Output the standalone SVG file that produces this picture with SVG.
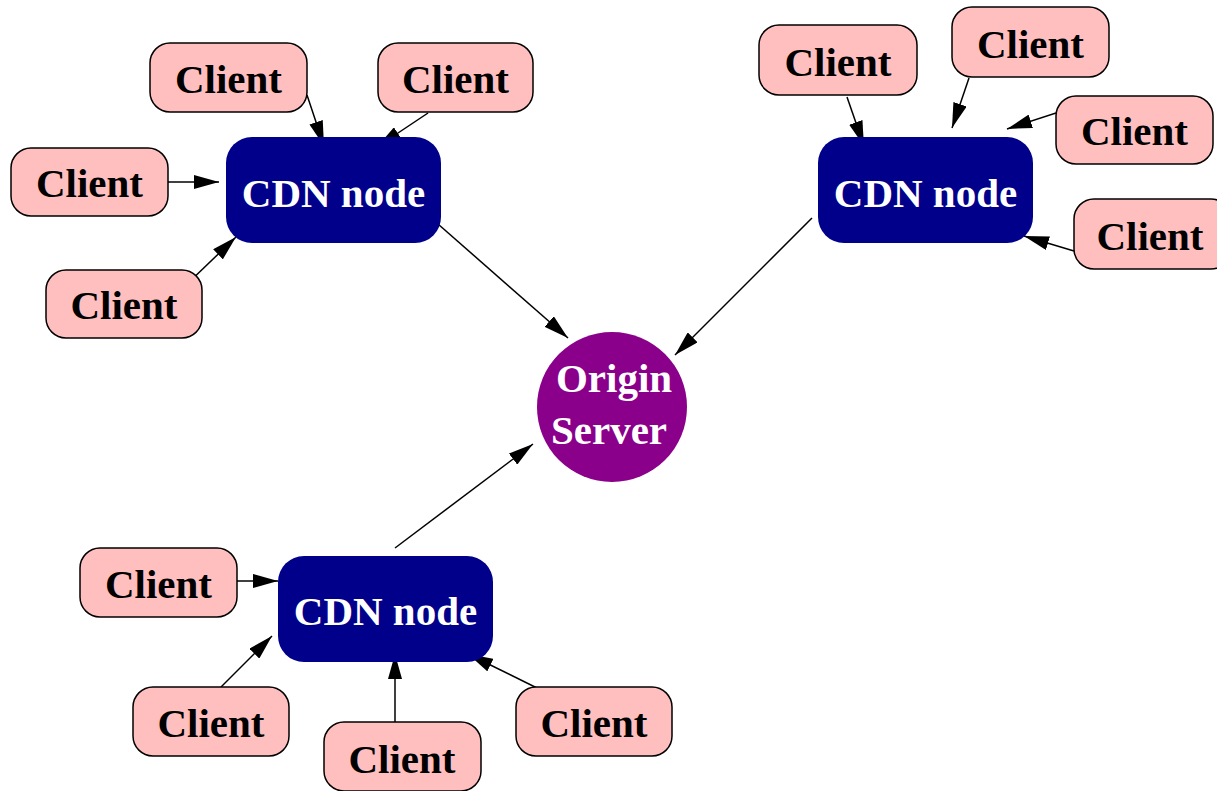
<svg xmlns="http://www.w3.org/2000/svg" width="1217" height="791" viewBox="0 0 1217 791">
<style>
.client rect{fill:#ffbfbf;stroke:#000;stroke-width:1.5}
.cdn rect{fill:#00008b}
.origin circle{fill:#8b008b}
text{font-family:"Liberation Serif","Times New Roman",serif;font-weight:bold;font-size:41px;text-anchor:middle}
.client text{fill:#000}
.cdn text,.origin text{fill:#fff}
.edges line{stroke:#000;stroke-width:1.5;marker-end:url(#ah)}
</style>
<defs>
<marker id="ah" markerUnits="userSpaceOnUse" markerWidth="26" markerHeight="14" refX="25" refY="7" orient="auto">
<path d="M0,0 L25,7 L0,14 z" fill="#000"/>
</marker>
</defs>
<g class="edges">
<line x1="307" y1="95" x2="324" y2="146"/>
<line x1="428" y1="113" x2="377" y2="147"/>
<line x1="168" y1="182" x2="219" y2="182"/>
<line x1="185" y1="286" x2="236" y2="237"/>
<line x1="430" y1="217" x2="568" y2="338"/>
<line x1="812" y1="218" x2="675" y2="355"/>
<line x1="395" y1="548" x2="533" y2="444"/>
<line x1="847" y1="97" x2="864" y2="146"/>
<line x1="969" y1="78" x2="952" y2="128"/>
<line x1="1056" y1="113" x2="1007" y2="129"/>
<line x1="1074" y1="251" x2="1024" y2="236"/>
<line x1="237" y1="581" x2="278" y2="581"/>
<line x1="221" y1="687" x2="272" y2="636"/>
<line x1="395" y1="722" x2="395" y2="654"/>
<line x1="537" y1="688" x2="468" y2="654"/>
</g>
<g id="origin" class="origin">
<circle cx="612" cy="407" r="75"/>
<text x="614" y="392">Origin</text>
<text x="609" y="444">Server</text>
</g>
<g id="cdn1" class="cdn"><rect x="226" y="137" width="215" height="106" rx="26"/><text x="333.5" y="207">CDN node</text></g>
<g id="cdn2" class="cdn"><rect x="818" y="137" width="215" height="106" rx="26"/><text x="925.5" y="207">CDN node</text></g>
<g id="cdn3" class="cdn"><rect x="278" y="556" width="215" height="106" rx="26"/><text x="385.5" y="625">CDN node</text></g>
<g id="client1" class="client"><rect x="150" y="43" width="157" height="69" rx="20"/><text x="228.5" y="93">Client</text></g>
<g id="client2" class="client"><rect x="378" y="43" width="155" height="69" rx="20"/><text x="455.5" y="93">Client</text></g>
<g id="client3" class="client"><rect x="11" y="148" width="157" height="68" rx="20"/><text x="89.5" y="197">Client</text></g>
<g id="client4" class="client"><rect x="46" y="270" width="156" height="68" rx="20"/><text x="124" y="319">Client</text></g>
<g id="client5" class="client"><rect x="759" y="25" width="158" height="70" rx="20"/><text x="838" y="76">Client</text></g>
<g id="client6" class="client"><rect x="952" y="7" width="157" height="70" rx="20"/><text x="1030.5" y="58">Client</text></g>
<g id="client7" class="client"><rect x="1056" y="96" width="157" height="68" rx="20"/><text x="1134.5" y="145">Client</text></g>
<g id="client8" class="client"><rect x="1074" y="199" width="157" height="70" rx="20"/><text x="1150" y="250">Client</text></g>
<g id="client9" class="client"><rect x="80" y="548" width="157" height="69" rx="20"/><text x="158.5" y="598">Client</text></g>
<g id="client10" class="client"><rect x="133" y="687" width="156" height="69" rx="20"/><text x="211" y="737">Client</text></g>
<g id="client11" class="client"><rect x="324" y="722" width="157" height="69" rx="20"/><text x="402" y="773">Client</text></g>
<g id="client12" class="client"><rect x="516" y="687" width="156" height="69" rx="20"/><text x="594" y="737">Client</text></g>
</svg>
